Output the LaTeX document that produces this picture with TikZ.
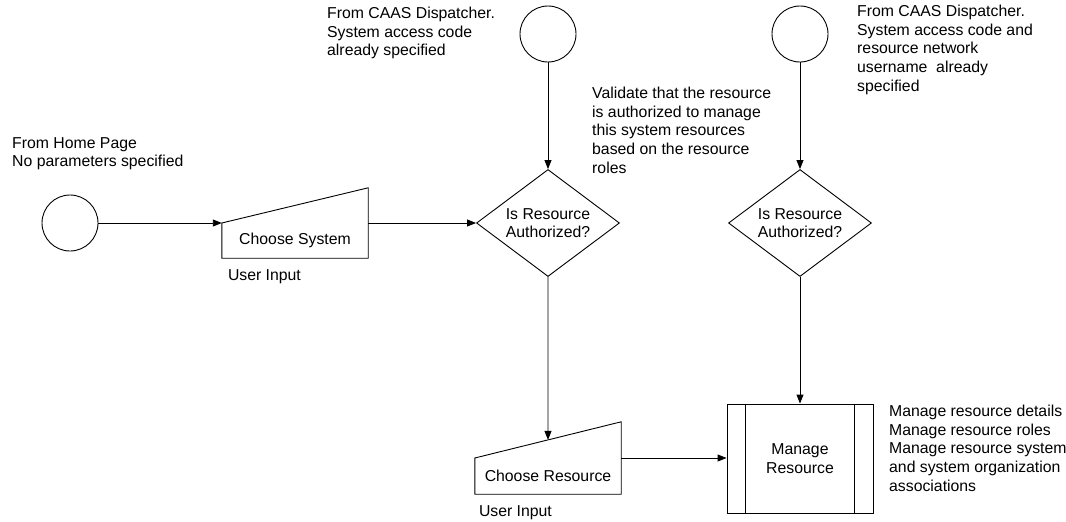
\documentclass[tikz,border=0pt]{standalone}
\usepackage{fontspec}
\setmainfont{Liberation Sans}
\usetikzlibrary{shapes.geometric, arrows.meta, calc}
\tikzset{
  line/.style={line width=0.9pt},
  flow/.style={line, -{Triangle[length=9pt, width=7pt]}},
  terminal/.style={circle, draw, line, minimum size=56pt, inner sep=0pt},
  decision/.style={diamond, draw, line, minimum width=143pt, minimum height=107pt, inner sep=0pt},
  userinput/.style={minimum width=146pt, inner sep=0pt},
  process/.style={rectangle, draw, line, minimum width=146pt, minimum height=109pt, align=center, inner sep=0pt},
  note/.style={align=left, inner sep=0pt, anchor=north west},
}

\begin{document}
\begin{tikzpicture}[x=1pt, y=-1pt, font=\fontsize{15.8}{18.6}\selectfont]
  \useasboundingbox (0,0) rectangle (1066,522);

  % entry points
  \node[terminal] (home) at (70,223) {};
  \node[terminal] (caasA) at (548,34) {};
  \node[terminal] (caasB) at (800,34) {};
  \node[note] (homeNote) at (12,137) {From Home Page\\No parameters specified};
  \node[note] (caasANote) at (327,7) {From CAAS Dispatcher.\\System access code\\already specified};
  \node[note] (caasBNote) at (857,5) {From CAAS Dispatcher.\\System access code and\\resource network\\username\ \ already\\specified};

  % user input: choose system
  \node[userinput, minimum height=70pt] (sys) at (295,223) {};
  \draw[line] (sys.west) -- (sys.north east) -- (sys.south east) -- (sys.south west) -- cycle;
  \node (sysText) at ([yshift=-17pt]sys.center) {Choose System};
  \node[note] (sysIn) at ([shift={(6,11)}]sys.south west) {User Input};

  % decisions
  \node[decision, label={[align=center]center:Is Resource\\Authorized?}] (authA) at (548,223) {};
  \node[decision, label={[align=center]center:Is Resource\\Authorized?}] (authB) at (800,223) {};
  \node[note] (authNote) at (592,87) {Validate that the resource\\is authorized to manage\\this system resources\\based on the resource\\roles};

  % user input: choose resource
  \node[userinput, minimum height=72pt] (res) at (548,458) {};
  \draw[line] (res.west) -- (res.north east) -- (res.south east) -- (res.south west) -- cycle;
  \node (resText) at ([yshift=-18pt]res.center) {Choose Resource};
  \node[note] (resIn) at ([shift={(4,11)}]res.south west) {User Input};

  % manage resource
  \node[process] (mr) at (800,458.5) {Manage\\Resource};
  \draw[line] ([xshift=19pt]mr.north west) -- ([xshift=19pt]mr.south west);
  \draw[line] ([xshift=-19pt]mr.north east) -- ([xshift=-19pt]mr.south east);
  \node[note] (mrNote) at (889,405) {Manage resource details\\Manage resource roles\\Manage resource system\\and system organization\\associations};

  % connectors
  \draw[flow] (home) -- (sys.west);
  \draw[flow] (sys.east) -- (authA.west);
  \draw[flow] (caasA) -- (authA.north);
  \draw[flow] (authA.south) -- ($(res.west)!0.5!(res.north east)$);
  \draw[flow] (res.east) -- (res.east -| mr.west);
  \draw[flow] (caasB) -- (authB.north);
  \draw[flow] (authB.south) -- (mr.north);
\end{tikzpicture}
\end{document}
